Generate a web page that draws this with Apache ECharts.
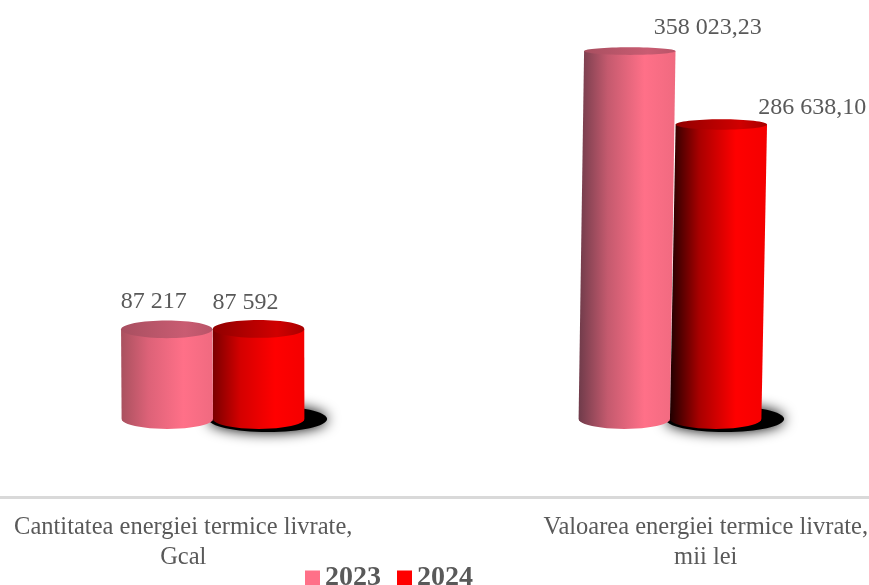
<!DOCTYPE html>
<html>
<head>
<meta charset="utf-8">
<style>
    html, body { margin: 0; padding: 0; background: #fff; }
    #chart { width: 869px; height: 585px; }
</style>
<script src="https://cdn.jsdelivr.net/npm/echarts@6/dist/echarts.min.js"></script>
</head>
<body>
<div id="chart"></div>
<script>
const categories = ['Cantitatea energiei termice livrate,\nGcal', 'Valoarea energiei termice livrate,\nmii lei'];
const seriesNames = ['2023', '2024'];
const values2023 = [87217, 358023.23];
const values2024 = [87592, 286638.10];
const labels2023 = ['87 217', '358 023,23'];
const labels2024 = ['87 592', '286 638,10'];

// label offsets from the top of each cylinder, the picture has them off-center
const labelOffsets = [
    [[-13, -28], [78, -23]],
    [[-13, -26], [91, -17]],
];

const TEXT = '#595959';
const FONT = '"Liberation Serif", "Times New Roman", serif';

const palette = [
    {
        // [left edge per category], [mid per category], light, right
        left: ['#a9515f', '#6f3b4a'],
        mid: ['#dd6278', '#c45a6e'],
        light: '#ff7088',
        right: '#f06a80',
        top: ['#a84f60', '#c95c72', '#b85468'],
    },
    {
        left: ['#7a0000', '#200000'],
        mid: ['#d40000', '#a80000'],
        light: '#ff0000',
        right: '#f40000',
        top: ['#900000', '#d00000', '#a80000'],
    },
];

function gradient(stops) {
    return new echarts.graphic.LinearGradient(0, 0, 1, 0, stops);
}

function cylinder(seriesPos, labels) {
    return function (params, api) {
        const i = params.dataIndex;
        const base = api.coord([i, 0]);
        const top = api.coord([i, api.value(1)]);
        const band = api.size([1, 0])[0];
        const w = band * 0.2;
        const cx = base[0] + (seriesPos === 0 ? -band * 0.1 : band * 0.1);
        const h = base[1] - top[1];
        // the columns lean outward a little, 3D perspective of the original
        const lean = (cx - 300) * h * 4.6e-5;
        const topX = cx + lean;
        const topRy = 10.5 - h * 0.018;
        const baseRy = 10;
        const c = palette[seriesPos];

        const points = [[topX - w / 2, top[1]], [topX + w / 2, top[1]]];
        for (let a = 0; a <= 24; a++) {
            const t = a / 24 * Math.PI;
            points.push([cx + Math.cos(t) * w / 2, base[1] + Math.sin(t) * baseRy]);
        }

        return {
            type: 'group',
            children: [
                {
                    type: 'polygon',
                    shape: {points: points},
                    style: {
                        fill: gradient([
                            {offset: 0, color: c.left[i]},
                            {offset: 0.3, color: c.mid[i]},
                            {offset: 0.68, color: c.light},
                            {offset: 1, color: c.right},
                        ]),
                    },
                },
                {
                    type: 'ellipse',
                    shape: {cx: topX, cy: top[1], rx: w / 2, ry: topRy},
                    style: {
                        fill: gradient([
                            {offset: 0, color: c.top[0]},
                            {offset: 0.7, color: c.top[1]},
                            {offset: 1, color: c.top[2]},
                        ]),
                    },
                },
                {
                    type: 'text',
                    style: {
                        x: topX + labelOffsets[seriesPos][i][0],
                        y: top[1] + labelOffsets[seriesPos][i][1],
                        text: labels[i],
                        align: 'center',
                        verticalAlign: 'middle',
                        fill: TEXT,
                        font: '24px ' + FONT,
                    },
                },
            ],
        };
    };
}

function floorShadow(params, api) {
    const i = params.dataIndex;
    const base = api.coord([i, 0]);
    const band = api.size([1, 0])[0];
    return {
        type: 'ellipse',
        shape: {cx: base[0] + band * 0.1 + 9, cy: base[1], rx: band * 0.13, ry: 13},
        style: {fill: '#000', shadowBlur: 14, shadowColor: '#000'},
    };
}

const chart = echarts.init(document.getElementById('chart'));

chart.setOption({
    animation: false,
    backgroundColor: '#fff',
    grid: [
        {left: -15.5, top: 9, width: 914, height: 488, outerBoundsMode: 'none'},
        // only there to hold the axis labels, they don't sit under the columns
        {left: -78, top: 9, width: 1045, height: 488, outerBoundsMode: 'none'},
    ],
    legend: {
        data: seriesNames,
        left: 300,
        top: 559,
        icon: 'rect',
        itemWidth: 15,
        itemHeight: 15,
        itemGap: 16,
        textStyle: {color: TEXT, fontFamily: FONT, fontSize: 28, fontWeight: 'bold'},
    },
    xAxis: [
        {
            type: 'category',
            data: categories,
            axisLine: {onZero: false, lineStyle: {color: '#d9d9d9', width: 3}},
            axisTick: {show: false},
            axisLabel: {show: false},
        },
        {
            type: 'category',
            gridIndex: 1,
            data: categories,
            axisLine: {show: false},
            axisTick: {show: false},
            axisLabel: {
                color: TEXT,
                fontFamily: FONT,
                fontSize: 24.5,
                lineHeight: 30,
                margin: 16,
                interval: 0,
            },
        },
    ],
    yAxis: [
        {type: 'value', min: -76000, max: 399000, show: false},
        {type: 'value', gridIndex: 1, min: -76000, max: 399000, show: false},
    ],
    series: [
        {
            type: 'custom',
            name: 'shadow',
            silent: true,
            encode: {x: 0, y: 1},
            data: values2024.map((v, i) => [i, v]),
            renderItem: floorShadow,
            z: 1,
        },
        {
            type: 'custom',
            name: seriesNames[0],
            itemStyle: {color: '#ff7088'},
            encode: {x: 0, y: 1},
            data: values2023.map((v, i) => [i, v]),
            renderItem: cylinder(0, labels2023),
            z: 2,
        },
        {
            type: 'custom',
            name: seriesNames[1],
            itemStyle: {color: '#ff0000'},
            encode: {x: 0, y: 1},
            data: values2024.map((v, i) => [i, v]),
            renderItem: cylinder(1, labels2024),
            z: 3,
        },
    ],
});

window.addEventListener('resize', chart.resize.bind(chart));
</script>
</body>
</html>
